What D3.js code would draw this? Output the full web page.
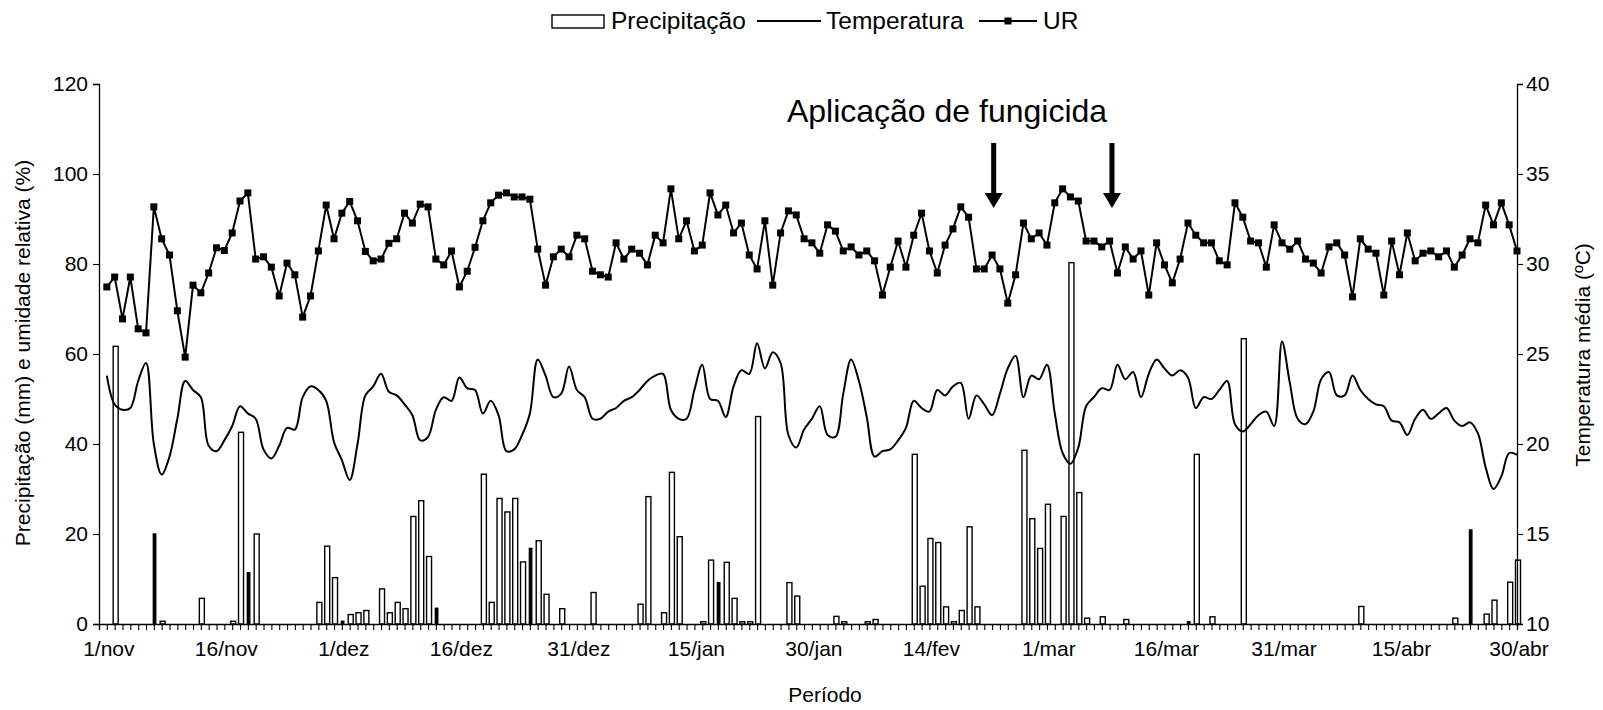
<!DOCTYPE html>
<html><head><meta charset="utf-8">
<script src="https://cdn.jsdelivr.net/npm/d3@7"></script>
<style>
body{margin:0;background:#fff}
text{font-family:Arial,"Liberation Sans",sans-serif;fill:#000}
</style>
</head><body>
<svg id="chart" width="1603" height="710"></svg>
<script>
// ---- data ----
const tickLabels = ["1/nov","16/nov","1/dez","16/dez","31/dez","15/jan","30/jan","14/fev","1/mar","16/mar","31/mar","15/abr","30/abr"];
const tickDays = [0,15,30,45,60,75,90,105,120,135,150,165,180];
const leftTicks = [0,20,40,60,80,100,120];
const rightTicks = [10,15,20,25,30,35,40];

const ur = [74.9,77.1,67.8,77.1,65.6,64.7,92.7,85.6,82.0,69.6,59.3,75.3,73.6,78.0,83.6,83.0,86.9,94.0,95.8,81.1,
81.6,79.3,72.9,80.2,77.6,68.2,72.9,82.9,93.1,85.6,91.3,93.9,89.6,82.8,80.7,81.1,84.6,85.6,91.3,89.1,
93.3,92.7,81.1,79.8,82.9,74.9,78.4,83.7,89.6,93.6,95.3,95.8,94.9,94.9,94.4,83.3,75.3,81.6,83.3,81.6,
86.4,85.6,78.4,77.6,77.1,84.7,81.1,83.3,82.4,79.8,86.4,84.7,96.7,85.6,89.6,82.9,84.2,95.8,90.9,93.1,
86.9,89.1,82.0,78.9,89.6,75.3,86.9,91.8,90.9,85.6,84.7,82.4,88.7,87.3,82.9,83.8,82.0,82.9,80.7,73.1,
79.3,85.1,79.3,86.4,91.3,82.9,78.0,84.2,87.8,92.7,90.4,78.9,78.9,82.0,78.9,71.3,77.6,89.1,85.6,86.9,
84.2,93.6,96.7,94.9,94.0,85.1,85.1,83.8,85.1,78.0,83.8,81.1,82.9,73.1,84.7,79.8,75.8,81.1,89.1,86.4,
84.7,84.7,80.7,79.8,93.6,90.4,85.1,84.7,79.3,88.7,84.7,83.3,85.1,81.1,80.2,78.0,83.8,84.7,82.0,72.7,
85.6,83.3,82.4,73.1,85.1,77.6,86.9,80.7,82.4,82.9,81.6,82.9,79.3,82.0,85.6,84.7,93.1,88.7,93.6,88.7,
82.9];

const temperatura = [23.8,22.2,21.9,22.0,23.5,24.5,20.0,18.3,19.3,21.4,23.5,23.0,22.6,19.9,19.6,20.2,21.0,22.1,21.7,21.4,
19.7,19.2,19.9,20.9,20.8,22.6,23.2,23.0,22.4,20.1,19.1,18.0,20.0,22.7,23.2,23.9,22.9,22.7,22.2,21.6,
20.2,20.4,21.9,22.6,22.4,23.7,23.1,23.0,21.7,22.4,21.6,19.6,19.7,20.5,21.7,24.7,23.8,22.6,22.8,24.3,
23.0,22.6,21.4,21.4,21.8,22.0,22.4,22.6,23.0,23.5,23.8,23.9,21.9,21.4,21.4,23.0,24.4,22.5,22.4,21.5,
23.2,24.1,23.9,25.6,24.2,25.1,24.5,20.5,19.8,20.8,21.4,22.1,20.5,20.4,22.8,24.7,23.5,21.5,19.3,19.6,
19.7,20.2,20.9,22.4,22.0,21.8,23.0,22.7,23.2,23.4,21.4,22.7,22.2,21.6,22.8,24.2,24.9,22.6,23.8,23.6,
24.4,21.7,19.5,18.9,19.8,22.1,22.6,23.1,23.0,24.4,23.6,24.0,22.6,23.9,24.7,24.2,23.8,24.1,23.7,22.0,
22.6,22.5,23.0,23.5,21.1,20.7,21.1,21.6,21.8,21.0,25.7,23.4,21.4,21.1,21.8,23.6,24.0,22.7,22.7,23.8,
23.0,22.5,22.2,22.1,21.3,21.2,20.5,21.4,21.9,21.4,21.7,22.0,21.3,21.0,21.2,20.6,18.7,17.5,18.2,19.5,
19.4];

const precipitacao = [0,61.7,0,0,0,0,20.0,0.6,0,0,0,0,5.7,0,0,0,0.6,42.6,11.4,20.0,
0,0,0,0,0,0,0,4.8,17.3,10.3,0.6,2.1,2.5,3.0,0,7.8,2.5,4.8,3.4,23.9,
27.4,15.0,3.5,0,0,0,0,0,33.3,4.8,27.9,24.9,27.9,13.8,16.8,18.5,6.6,0,3.4,0,
0,0,7.0,0,0,0,0,0,4.4,28.3,0,2.5,33.7,19.4,0,0,0.5,14.2,9.2,13.7,
5.7,0.5,0.5,46.1,0,0,0,9.2,6.2,0,0,0,0,1.7,0.5,0,0,0.5,1.0,0,
0,0,0,37.7,8.4,19.0,18.1,3.8,0.5,3.0,21.6,3.8,0,0,0,0,0,38.6,23.4,16.8,
26.6,0,23.9,80.3,29.2,1.3,0,1.6,0,0,1.0,0,0,0,0,0,0,0,0.5,37.7,
0,1.6,0,0,0,63.4,0,0,0,0,0,0,0,0,0,0,0,0,0,0,
3.9,0,0,0,0,0,0,0,0,0,0,0,1.3,0,20.9,0,2.2,5.3,0,9.3,
14.2];

const arrowDays = [113.2, 128.3];

(function () {
// ---- chart ----
const svg = d3.select("#chart");
const pL = 99, pR = 1517, pT = 84, pB = 624;
const x = d3.scaleLinear().domain([-1, 180]).range([pL, pR]);
const yL = d3.scaleLinear().domain([0, 120]).range([pB, pT]);
const yR = d3.scaleLinear().domain([10, 40]).range([pB, pT]);
const days = d3.range(precipitacao.length);
const FS = 21;

// bars (every 12th slot renders narrower and solid, as in the source raster)
const narrow = d => d % 12 === 6;
svg.append("g").selectAll("rect").data(days.filter(d => precipitacao[d] > 0)).join("rect")
  .attr("x", d => narrow(d) ? x(d) - 0.5 : x(d) - 1.5)
  .attr("width", d => narrow(d) ? 2.4 : 5)
  .attr("y", d => yL(precipitacao[d]))
  .attr("height", d => pB - yL(precipitacao[d]))
  .attr("fill", d => narrow(d) ? "#000" : "#fff")
  .attr("stroke", "#000").attr("stroke-width", 1.4);

// temperature line
svg.append("path").datum(days)
  .attr("d", d3.line().x(d => x(d)).y(d => yR(temperatura[d])).curve(d3.curveCatmullRom.alpha(0.5)))
  .attr("fill", "none").attr("stroke", "#000").attr("stroke-width", 2);

// UR line + markers
svg.append("path").datum(days)
  .attr("d", d3.line().x(d => x(d)).y(d => yL(ur[d])))
  .attr("fill", "none").attr("stroke", "#000").attr("stroke-width", 2);
const ms = 7;
svg.append("g").selectAll("rect").data(days).join("rect")
  .attr("x", d => x(d) - ms/2).attr("y", d => yL(ur[d]) - ms/2)
  .attr("width", ms).attr("height", ms).attr("fill", "#000");

// axes
const gL = svg.append("g").attr("transform", `translate(${pL},0)`)
  .call(d3.axisLeft(yL).tickValues(leftTicks).tickSize(6).tickPadding(5));
const gR = svg.append("g").attr("transform", `translate(${pR},0)`)
  .call(d3.axisRight(yR).tickValues(rightTicks).tickSize(6).tickPadding(3));
const gB = svg.append("g").attr("transform", `translate(0,${pB})`)
  .call(d3.axisBottom(x).tickValues(d3.range(-1, 181)).tickSize(6).tickFormat(""));
const gBL = svg.append("g").attr("transform", `translate(1.5,${pB})`)
  .call(d3.axisBottom(x).tickValues(tickDays).tickSize(0).tickPadding(17)
    .tickFormat((d, i) => tickLabels[i]));
gBL.select(".domain").remove();
[gL, gR, gB, gBL].forEach(g => {
  g.selectAll("path.domain").attr("stroke", "#000").attr("stroke-width", 1.3);
  g.selectAll("line").attr("stroke", "#000").attr("stroke-width", 1.1);
  g.selectAll("text").attr("font-size", FS).attr("font-family", "Arial, 'Liberation Sans', sans-serif").attr("fill", "#000");
});

// axis titles
svg.append("text").attr("transform", `translate(30,353) rotate(-90)`)
  .attr("text-anchor", "middle").attr("font-size", FS)
  .text("Precipitação (mm) e umidade relativa (%)");
svg.append("text").attr("transform", `translate(1590,355) rotate(-90)`)
  .attr("text-anchor", "middle").attr("font-size", FS)
  .text("Temperatura média (ºC)");
svg.append("text").attr("x", 825).attr("y", 702).attr("text-anchor", "middle")
  .attr("font-size", FS).text("Período");

// annotation
svg.append("text").attr("x", 947).attr("y", 122).attr("text-anchor", "middle")
  .attr("font-size", 32).text("Aplicação de fungicida");
arrowDays.forEach(d => {
  const cx = x(d);
  svg.append("rect").attr("x", cx - 2.5).attr("y", 143).attr("width", 5).attr("height", 52).attr("fill", "#000");
  svg.append("path").attr("d", `M${cx-9},193 L${cx+9},193 L${cx},208 Z`).attr("fill", "#000");
});

// legend
const lg = svg.append("g");
const ly = 21, LFS = 24.5;
lg.append("rect").attr("x", 552).attr("y", ly - 6).attr("width", 52).attr("height", 13)
  .attr("fill", "#fff").attr("stroke", "#000").attr("stroke-width", 1.4);
lg.append("text").attr("x", 611).attr("y", ly + 8).attr("font-size", LFS).text("Precipitação");
lg.append("line").attr("x1", 757).attr("x2", 821).attr("y1", ly).attr("y2", ly).attr("stroke", "#000").attr("stroke-width", 2);
lg.append("text").attr("x", 826).attr("y", ly + 8).attr("font-size", LFS).text("Temperatura");
lg.append("line").attr("x1", 979).attr("x2", 1037).attr("y1", ly).attr("y2", ly).attr("stroke", "#000").attr("stroke-width", 2);
lg.append("rect").attr("x", 1008 - ms/2).attr("y", ly - ms/2).attr("width", ms).attr("height", ms).attr("fill", "#000");
lg.append("text").attr("x", 1043).attr("y", ly + 8).attr("font-size", LFS).text("UR");
})();
</script>
</body></html>
